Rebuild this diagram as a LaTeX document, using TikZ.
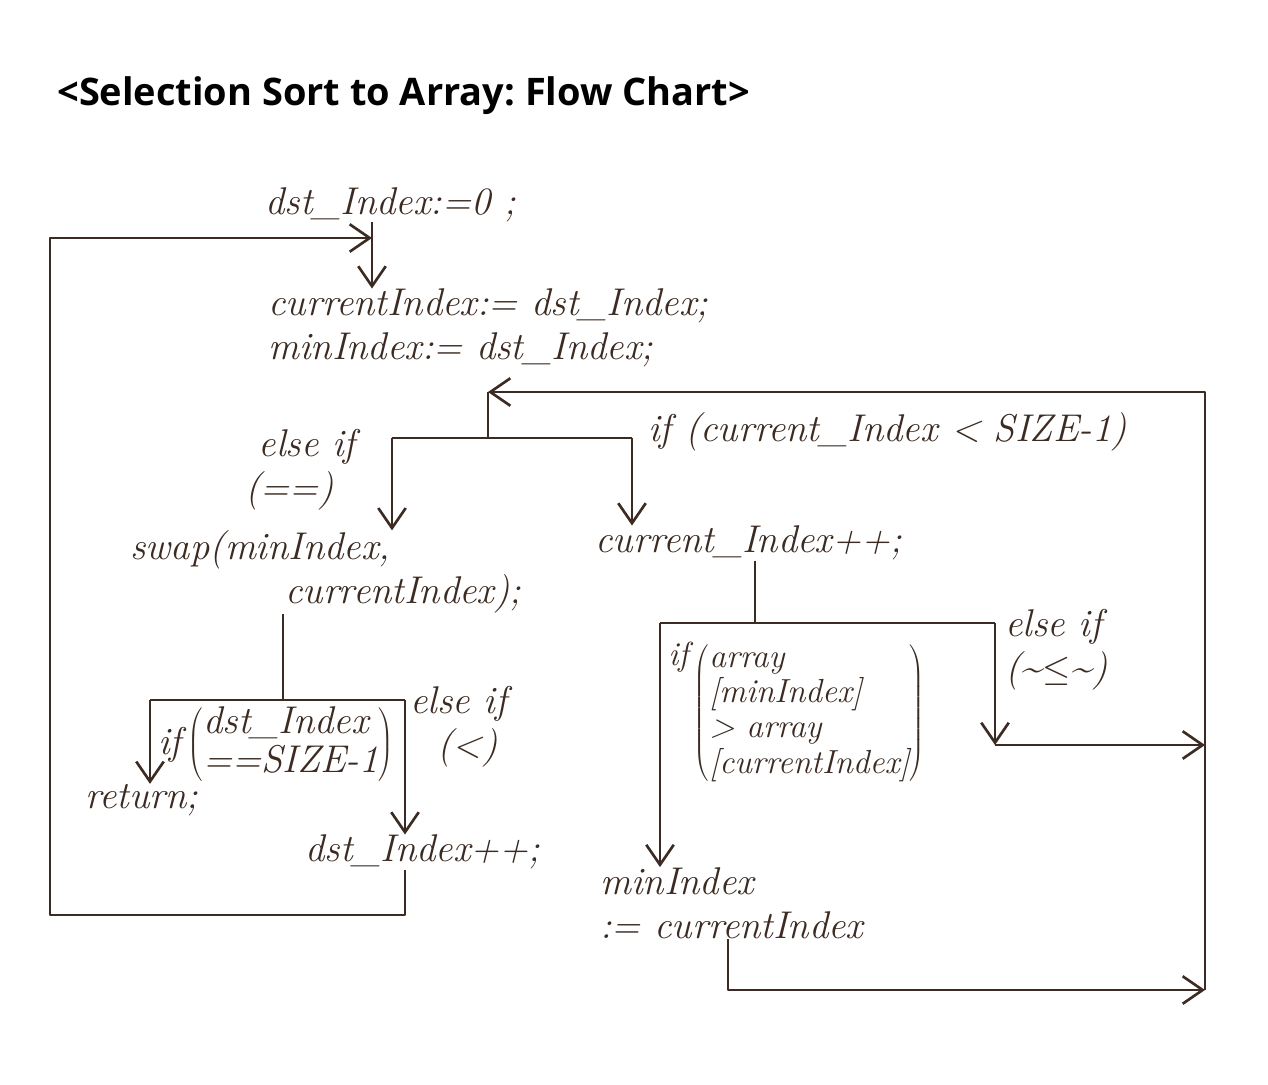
\documentclass[tikz,border=0pt]{standalone}
\usepackage{fontspec}
\newfontfamily\titlefont{Open Sans}
\usetikzlibrary{arrows.meta}
\definecolor{ink}{HTML}{3B2B22}
\tikzset{
	hand/.style={font=\fontsize{22}{25}\selectfont\itshape,text=ink,inner sep=0pt,align=left,anchor=west},
	wire/.style={draw=ink,line width=1.5pt,line join=round},
	arr/.style={wire,-{Straight Barb[length=4mm,width=5.5mm]}}
}
\begin{document}
\begin{tikzpicture}[x=0.02cm,y=-0.02cm]
	\useasboundingbox[fill=white] (0,0) rectangle (1268,1085);
	\node[anchor=base west,inner sep=0pt,font=\titlefont\bfseries\fontsize{21.6}{25}\selectfont\frenchspacing] (title) at (57,105) {<Selection Sort to Array: Flow Chart>};
	\node[hand] (dst0) at (265,205) {dst\_Index:=0 ;};
	\node[hand] (init) at (268,328) {currentIndex:= dst\_Index;\\minIndex:= dst\_Index;};
	\node[hand] (cnd1) at (245,470) {\ else if\\(==)};
	\node[hand] (cnd2) at (648,432) {if (current\_Index < SIZE-1)};
	\node[hand] (swap) at (130,572) {swap(minIndex,\\\hspace*{3.1cm}currentIndex);};
	\node[hand] (cinc) at (595,543) {current\_Index++;};
	\node[hand] (cnd3) at (158,745) {if\,$\left(\renewcommand\arraystretch{0.9}\begin{tabular}{@{}l@{}}dst\_Index\\==SIZE-1\end{tabular}\right)$};
	\node[hand] (cnd4) at (410,727) {else if\\\ \ (<)};
	\node[hand] (ret) at (85,800) {return;};
	\node[hand] (dinc) at (305,852) {dst\_Index++;};
	\node[hand,font=\fontsize{19}{22}\selectfont\itshape] (cnd5) at (668,713) {\raisebox{1.1cm}{if}\,$\left(\renewcommand\arraystretch{0.9}\begin{tabular}{@{}l@{}}array\\{}[minIndex]\\> array\\{}[currentIndex]\end{tabular}\right)$};
	\node[hand] (cnd6) at (1005,650) {else if\\(\textasciitilde$\leq$\textasciitilde)};
	\node[hand] (mset) at (600,903) {minIndex\\:= currentIndex};
	\coordinate (tj) at (372,238);
	\coordinate (lb) at (50,915);
	\coordinate (rb) at (1205,990);
	\coordinate (j1) at (488,392);
	\coordinate (b1) at (488,438);
	\coordinate (b1l) at (392,438);
	\coordinate (b1r) at (632,438);
	\coordinate (b2) at (283,700);
	\coordinate (b2l) at (150,700);
	\coordinate (b2r) at (405,700);
	\coordinate (b3) at (755,623);
	\coordinate (b3l) at (660,623);
	\coordinate (b3r) at (995,623);
	\coordinate (b3e) at (995,745);
	\coordinate (m1) at (728,990);
	\draw[arr] (dst0.south -| tj) -- (init.north -| tj);
	\draw[arr] (dinc.south -| b2r) -- (b2r |- lb) -- (lb) -- (lb |- tj) -- (tj);
	\draw[arr] (rb) -- (rb |- j1) -- (j1);
	\draw[wire] (j1) -- (b1) (b1l) -- (b1r);
	\draw[arr] (b1l) -- (b1l |- swap.north);
	\draw[arr] (b1r) -- (b1r |- cinc.north);
	\draw[wire] (swap.south -| b2) -- (b2) (b2l) -- (b2r);
	\draw[arr] (b2l) -- (b2l |- ret.north);
	\draw[arr] (b2r) -- (b2r |- dinc.north);
	\draw[wire] (cinc.south -| b3) -- (b3) (b3l) -- (b3r);
	\draw[arr] (b3l) -- (b3l |- mset.north);
	\draw[arr] (b3r) -- (b3e);
	\draw[arr] (b3e) -- (b3e -| rb);
	\draw[arr] (mset.south -| m1) -- (m1) -- (rb);
\end{tikzpicture}
\end{document}
